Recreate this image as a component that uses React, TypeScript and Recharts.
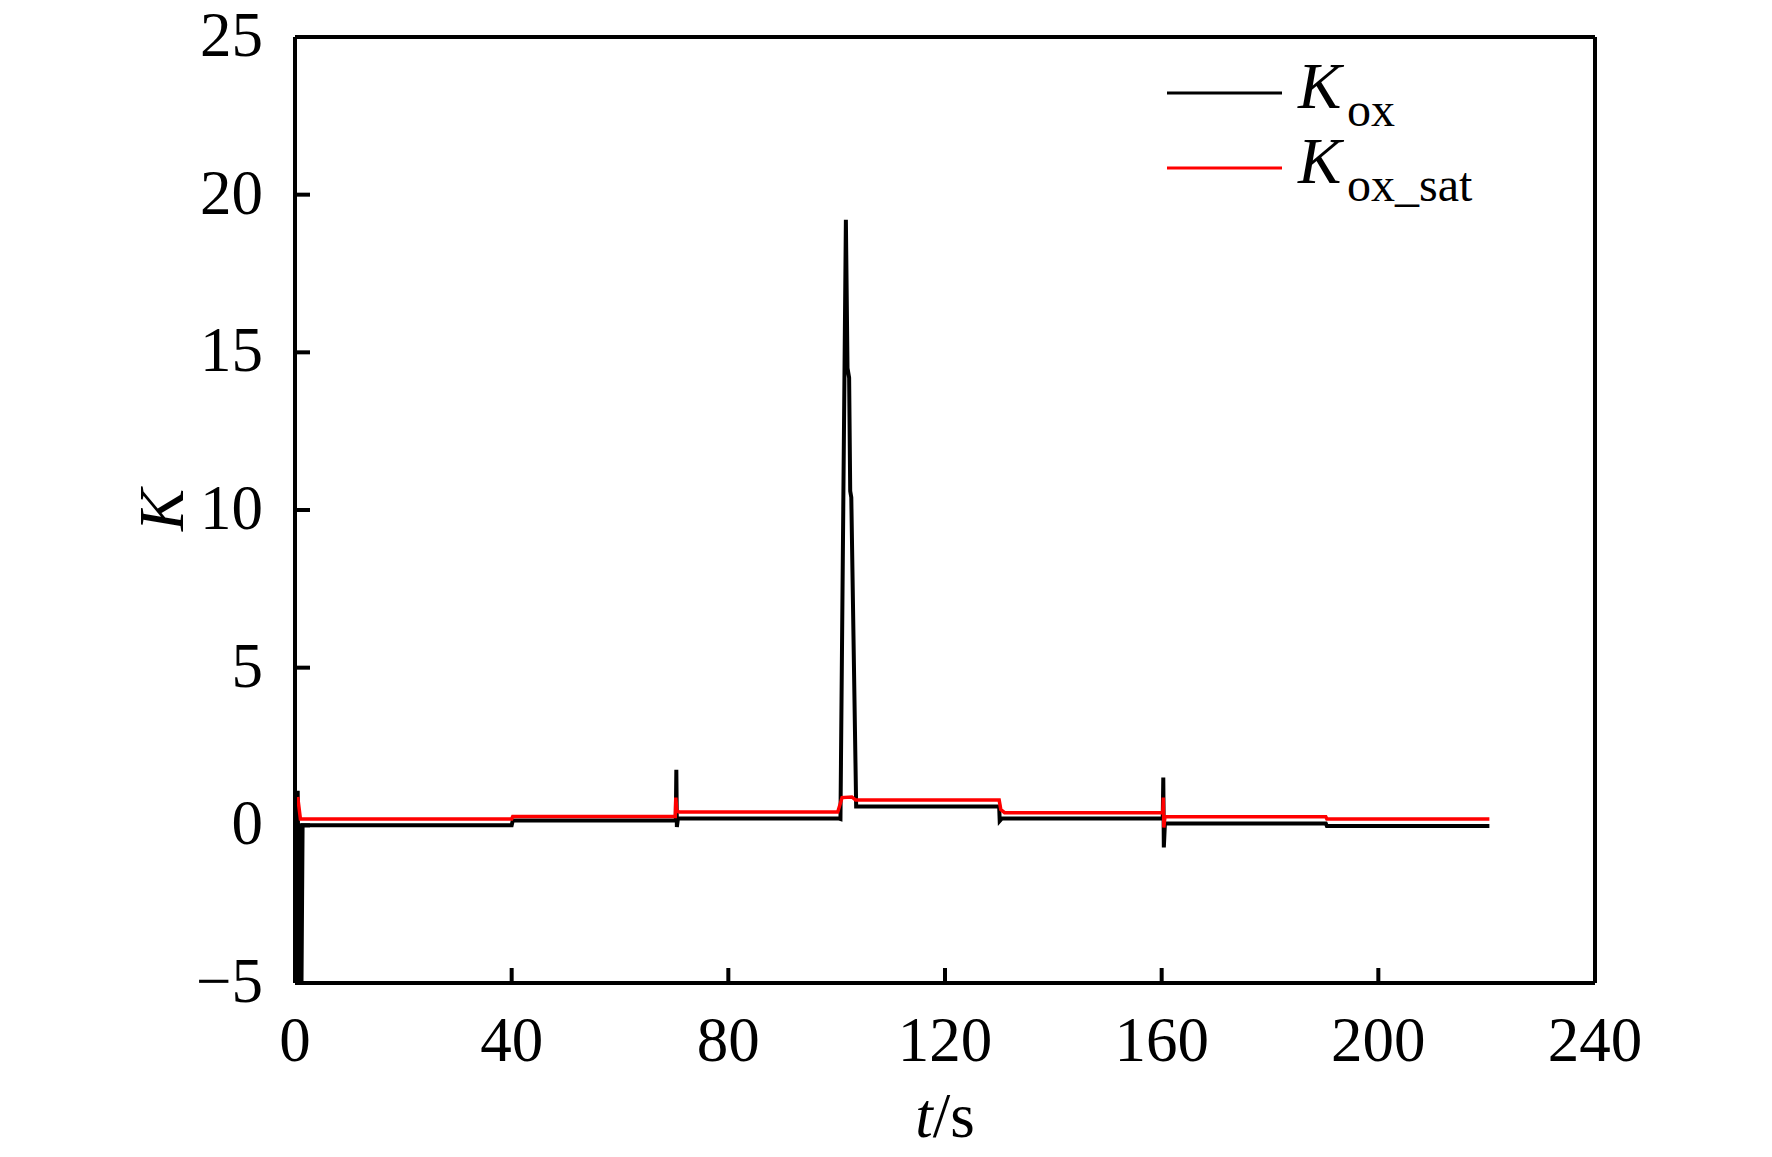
import React from "react";
import { LineChart, Line, XAxis, YAxis, ReferenceLine, Legend, Label } from "recharts";

// time axis (s) and values
const KOX_T = [
  0, 0.25, 0.5, 0.75, 1.0, 1.2, 1.4, 40, 40.2, 70.3, 70.4, 70.5, 70.7, 100.3, 100.7,
  101.7, 102.0, 102.3, 102.5, 102.7, 103.6, 130, 130.1, 130.5, 160.2, 160.3, 160.4,
  160.6, 190.3, 190.5, 220.5,
];
const KOX_V = [
  1.2, -5, 1.1, -5, 0.0, -5, 0.0, 0.0, 0.15, 0.15, 1.76, -0.05, 0.22, 0.22, 0.2,
  19.2, 14.5, 14.2, 10.6, 10.4, 0.6, 0.6, 0.14, 0.22, 0.22, 1.52, -0.7,
  0.06, 0.06, -0.02, -0.02,
];

const KOX_SAT_T = [
  0.5, 1.0, 40, 40.2, 70.2, 70.3, 70.5, 71, 100.2, 101, 102.8, 103.5, 130, 130.3,
  131, 160.2, 160.3, 160.4, 160.6, 190.3, 190.5, 220.5,
];
const KOX_SAT_V = [
  0.9, 0.2, 0.2, 0.28, 0.28, 0.88, 0.45, 0.42, 0.42, 0.88, 0.9, 0.8, 0.8, 0.5,
  0.4, 0.4, 0.88, -0.07, 0.27, 0.27, 0.2, 0.2,
];

const X_TICKS = [0, 40, 80, 120, 160, 200, 240];
const Y_TICKS = [-5, 0, 5, 10, 15, 20, 25];

const kox = KOX_T.map((t, i) => ({ t, v: KOX_V[i] }));
const koxSat = KOX_SAT_T.map((t, i) => ({ t, v: KOX_SAT_V[i] }));

const FONT = '"Liberation Serif", "Times New Roman", serif';
const TICK_FS = 63;

function fmt(v: number) {
  return v < 0 ? "\u2212" + Math.abs(v) : String(v);
}

function XTick({ x, y, payload }: any) {
  return (
    <g>
      <line x1={x} x2={x} y1={y} y2={y - 15} stroke="#000" strokeWidth={4} />
      <text x={x} y={y + 78} textAnchor="middle" fontFamily={FONT} fontSize={TICK_FS} fill="#000">
        {fmt(payload.value)}
      </text>
    </g>
  );
}

function YTick({ x, y, payload }: any) {
  return (
    <g>
      <line x1={x} x2={x + 15} y1={y} y2={y} stroke="#000" strokeWidth={4} />
      <text x={x - 32} y={y + 19} textAnchor="end" fontFamily={FONT} fontSize={TICK_FS} fill="#000">
        {fmt(payload.value)}
      </text>
    </g>
  );
}

function LegendBox({ payload }: any) {
  const rows = payload || [];
  return (
    <svg width={420} height={190} style={{ display: "block" }}>
      {rows.map((entry: any, i: number) => {
        const ly = 43 + i * 75;
        return (
          <g key={entry.value}>
            <line x1={27} x2={142} y1={ly} y2={ly} stroke={entry.color} strokeWidth={3} />
            <text x={158} y={ly + 15} fontFamily={FONT} fontSize={65} fontStyle="italic" fill="#000">
              K
            </text>
            <text x={207} y={ly + 33} fontFamily={FONT} fontSize={48} fill="#000">
              {entry.value}
            </text>
          </g>
        );
      })}
    </svg>
  );
}

export default function App() {
  return (
    <div style={{ width: 1772, height: 1157, background: "#fff" }}>
      <style>{"body{margin:0;background:#fff}"}</style>
      <LineChart
        width={1772}
        height={1157}
        margin={{ top: 37, right: 177, bottom: 74, left: 175 }}
      >
        <XAxis
          dataKey="t"
          type="number"
          domain={[0, 240]}
          ticks={X_TICKS}
          allowDataOverflow
          height={100}
          tickSize={0}
          tickMargin={0}
          tickLine={false}
          axisLine={{ stroke: "#000", strokeWidth: 4 }}
          tick={<XTick />}
        >
          <Label
            content={({ viewBox }: any) => (
              <text
                x={viewBox.x + viewBox.width / 2}
                y={1137}
                textAnchor="middle"
                fontFamily={FONT}
                fontSize={TICK_FS}
                fill="#000"
              >
                <tspan fontStyle="italic">t</tspan>/s
              </text>
            )}
          />
        </XAxis>
        <YAxis
          type="number"
          domain={[-5, 25]}
          ticks={Y_TICKS}
          allowDataOverflow
          width={120}
          tickSize={0}
          tickMargin={0}
          tickLine={false}
          axisLine={{ stroke: "#000", strokeWidth: 4 }}
          tick={<YTick />}
        >
          <Label
            content={({ viewBox }: any) => {
              const cy = viewBox.y + viewBox.height / 2;
              return (
                <text
                  x={183}
                  y={cy}
                  transform={`rotate(-90 183 ${cy})`}
                  textAnchor="middle"
                  fontFamily={FONT}
                  fontSize={TICK_FS}
                  fontStyle="italic"
                  fill="#000"
                >
                  K
                </text>
              );
            }}
          />
        </YAxis>
        <ReferenceLine y={25} stroke="#000" strokeWidth={4} />
        <ReferenceLine x={240} stroke="#000" strokeWidth={4} />
        <Legend
          layout="vertical"
          align="center"
          verticalAlign="middle"
          content={<LegendBox />}
          wrapperStyle={{ left: 1140, top: 50, width: 420, height: 190 }}
        />
        <Line
          data={kox}
          dataKey="v"
          name="ox"
          type="linear"
          stroke="#000"
          strokeWidth={4}
          dot={false}
          activeDot={false}
          isAnimationActive={false}
        />
        <Line
          data={koxSat}
          dataKey="v"
          name="ox_sat"
          type="linear"
          stroke="#ff0000"
          strokeWidth={3.5}
          dot={false}
          activeDot={false}
          isAnimationActive={false}
        />
      </LineChart>
    </div>
  );
}
